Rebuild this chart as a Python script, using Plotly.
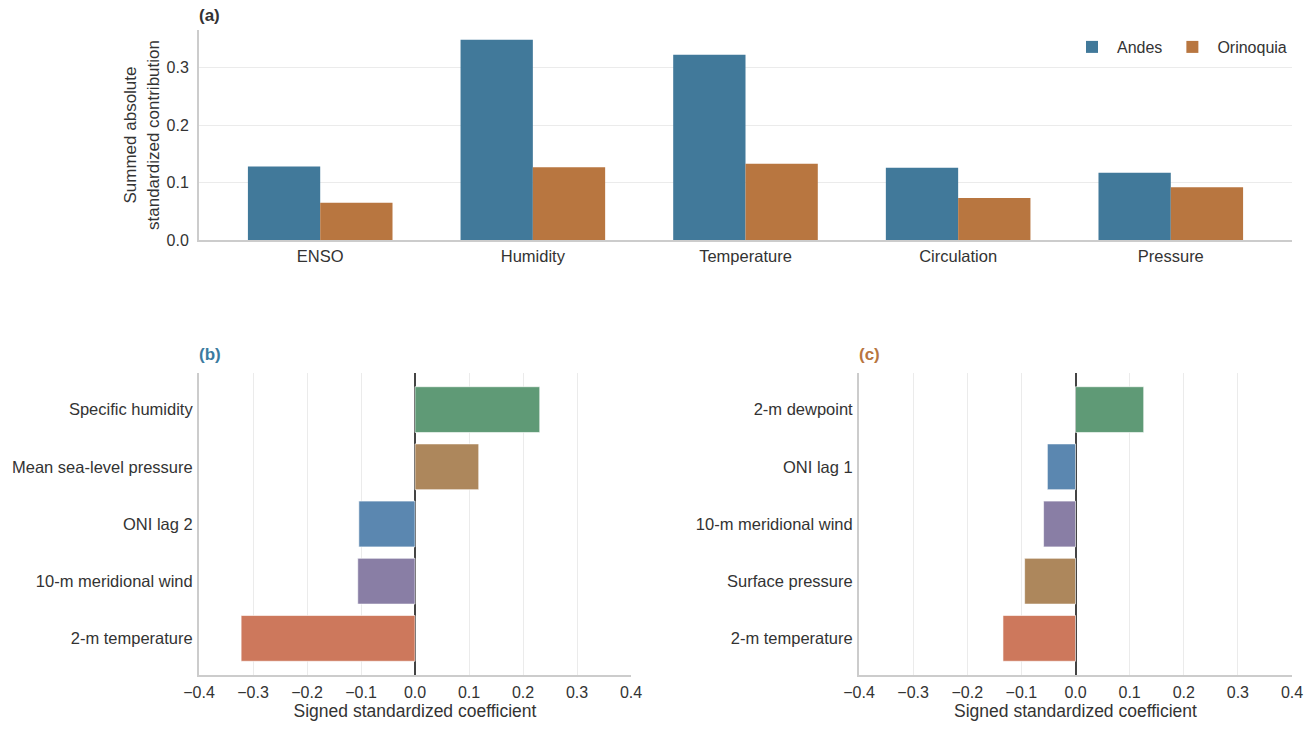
import plotly.graph_objects as go

# ---- data ----
groups = ["ENSO", "Humidity", "Temperature", "Circulation", "Pressure"]
andes_vals = [0.128, 0.349, 0.323, 0.126, 0.117]
orinoquia_vals = [0.065, 0.127, 0.133, 0.073, 0.092]

b_labels = ["Specific humidity", "Mean sea-level pressure", "ONI lag 2",
            "10-m meridional wind", "2-m temperature"]
b_vals = [0.231, 0.118, -0.104, -0.106, -0.322]
b_groups = ["Humidity", "Pressure", "ENSO", "Circulation", "Temperature"]

c_labels = ["2-m dewpoint", "ONI lag 1", "10-m meridional wind",
            "Surface pressure", "2-m temperature"]
c_vals = [0.126, -0.052, -0.059, -0.094, -0.134]
c_groups = ["Humidity", "ENSO", "Circulation", "Pressure", "Temperature"]

x_ticks = [-0.4, -0.3, -0.2, -0.1, 0.0, 0.1, 0.2, 0.3, 0.4]
y_ticks_a = [0.0, 0.1, 0.2, 0.3]

# ---- styles ----
ANDES = "#41799a"
ORIN = "#b87640"
group_colors = {
    "Humidity": "#5f9a76",
    "Pressure": "#ad875c",
    "ENSO": "#5b87b0",
    "Circulation": "#897ea5",
    "Temperature": "#cd785c",
}
FONT = "Liberation Sans, Arial, sans-serif"
TXT = "#333333"
SPINE = "#cccccc"
GRID = "#ebebeb"
W, H = 1309, 729


def px_x(p):
    return p / W


def px_y(p):
    return 1 - p / H


fig = go.Figure()

# Panel (a)
fig.add_trace(go.Bar(x=groups, y=andes_vals, name="Andes", marker_color=ANDES,
                     width=0.34, offset=-0.34, xaxis="x", yaxis="y",
                     marker_line_width=0))
fig.add_trace(go.Bar(x=groups, y=orinoquia_vals, name="Orinoquia", marker_color=ORIN,
                     width=0.34, offset=0.0, xaxis="x", yaxis="y",
                     marker_line_width=0))

# Panel (b)
fig.add_trace(go.Bar(y=b_labels, x=b_vals, orientation="h",
                     marker_color=[group_colors[g] for g in b_groups],
                     marker_line=dict(color="rgba(255,255,255,0.6)", width=1),
                     width=0.8, showlegend=False, xaxis="x2", yaxis="y2"))

# Panel (c)
fig.add_trace(go.Bar(y=c_labels, x=c_vals, orientation="h",
                     marker_color=[group_colors[g] for g in c_groups],
                     marker_line=dict(color="rgba(255,255,255,0.6)", width=1),
                     width=0.8, showlegend=False, xaxis="x3", yaxis="y3"))

numfont = dict(family=FONT, size=16, color=TXT)
catfont = dict(family=FONT, size=16.5, color=TXT)
titlefont = dict(family=FONT, size=17.5, color=TXT)

common_x_coef = dict(
    range=[-0.4, 0.4], tickvals=x_ticks,
    ticktext=[("\u2212" if v < 0 else "") + f"{abs(v):.1f}" for v in x_ticks],
    showgrid=True, gridcolor=GRID, gridwidth=1,
    zeroline=True, zerolinecolor="#444444", zerolinewidth=1.5,
    showline=True, linecolor=SPINE, linewidth=2,
    ticks="outside", ticklen=2, tickcolor="rgba(0,0,0,0)",
    tickfont=numfont, automargin=False,
    title=dict(text="Signed standardized coefficient", font=titlefont, standoff=5),
    fixedrange=True,
)
common_y_cat = dict(
    type="category", range=[4.64, -0.64],
    showgrid=False, zeroline=False,
    showline=True, linecolor=SPINE, linewidth=2,
    ticks="outside", ticklen=1, tickcolor="rgba(0,0,0,0)",
    tickfont=catfont, automargin=False, fixedrange=True,
)

fig.update_layout(
    width=W, height=H,
    margin=dict(l=0, r=0, t=0, b=0, autoexpand=False),
    paper_bgcolor="white", plot_bgcolor="white",
    barmode="overlay",
    font=dict(family=FONT, color=TXT),
    xaxis=dict(
        domain=[px_x(199), px_x(1292)], anchor="y",
        type="category", range=[-0.57, 4.57],
        showgrid=False, zeroline=False,
        showline=True, linecolor=SPINE, linewidth=2,
        ticks="",
        tickfont=catfont, fixedrange=True, automargin=False,
    ),
    yaxis=dict(
        domain=[px_y(240), px_y(30)], anchor="x",
        range=[0, 0.366], tickvals=y_ticks_a,
        ticktext=[f"{v:.1f}" for v in y_ticks_a],
        showgrid=True, gridcolor=GRID, gridwidth=1,
        zeroline=False,
        showline=True, linecolor=SPINE, linewidth=2,
        ticks="outside", ticklen=5, tickcolor="rgba(0,0,0,0)",
        tickfont=numfont, automargin=False,
        title=dict(text="Summed absolute<br>standardized contribution",
                   font=dict(family=FONT, size=17, color=TXT), standoff=3),
        fixedrange=True,
    ),
    xaxis2=dict(domain=[px_x(199), px_x(631)], anchor="y2", **common_x_coef),
    yaxis2=dict(domain=[px_y(675), px_y(373)], anchor="x2", **common_y_cat),
    xaxis3=dict(domain=[px_x(859), px_x(1292)], anchor="y3", **common_x_coef),
    yaxis3=dict(domain=[px_y(675), px_y(373)], anchor="x3", **common_y_cat),
    legend=dict(
        orientation="h", x=px_x(1292), y=px_y(30), xanchor="right", yanchor="top",
        font=dict(family=FONT, size=16, color=TXT),
        bgcolor="rgba(0,0,0,0)", itemwidth=40, traceorder="normal",
    ),
    annotations=[
        dict(text="<b>(a)</b>", x=px_x(197), y=px_y(15), xref="paper", yref="paper",
             xanchor="left", yanchor="middle", showarrow=False,
             font=dict(family=FONT, size=17, color=TXT)),
        dict(text="<b>(b)</b>", x=px_x(197), y=px_y(354), xref="paper", yref="paper",
             xanchor="left", yanchor="middle", showarrow=False,
             font=dict(family=FONT, size=17, color="#3b7ba0")),
        dict(text="<b>(c)</b>", x=px_x(857), y=px_y(354), xref="paper", yref="paper",
             xanchor="left", yanchor="middle", showarrow=False,
             font=dict(family=FONT, size=17, color="#b8763f")),
    ],
)

fig.write_html("out.html")
